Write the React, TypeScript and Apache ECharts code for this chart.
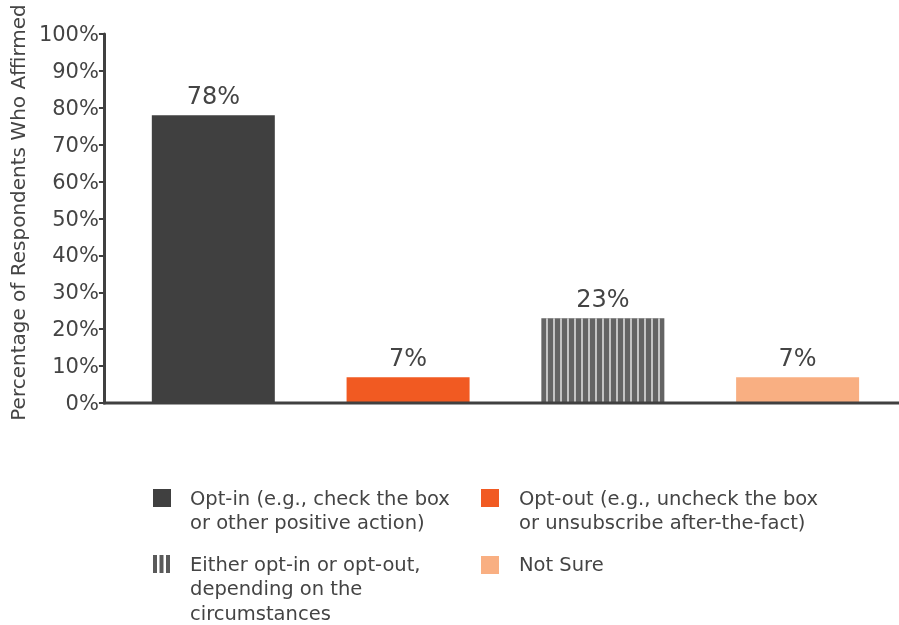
import React, { useEffect, useRef } from 'react';
import * as echarts from 'echarts';

const categories = ['Opt-in', 'Opt-out', 'Either opt-in or opt-out', 'Not Sure'];
const values = [78, 7, 23, 7];
const legendLabels = [
  'Opt-in (e.g., check the box\nor other positive action)',
  'Opt-out (e.g., uncheck the box\nor unsubscribe after-the-fact)',
  'Either opt-in or opt-out,\ndepending on the\ncircumstances',
  'Not Sure',
];
const yAxisTitle = 'Percentage of Respondents Who Affirmed';

const COLORS = ['#404040', '#F15A22', '#646464', '#F9AF82'];
const TEXT = '#444444';
const FONT = '"DejaVu Sans", sans-serif';

export default function App() {
  const ref = useRef<HTMLDivElement>(null);
  useEffect(() => {
    if (!ref.current) return;
    const chart = echarts.init(ref.current, undefined, { renderer: 'svg' });

    const legendPos = [
      { x: 153, y: 489, tx: 190, ty: 486 },
      { x: 481, y: 489, tx: 519, ty: 486 },
      { x: 153, y: 555, tx: 190, ty: 552 },
      { x: 481, y: 556, tx: 519, ty: 552 },
    ];
    const legendGraphics: any[] = [];
    legendLabels.forEach((lbl, i) => {
      const p = legendPos[i];
      if (i === 2) {
        [0, 1, 2].forEach((k) => {
          legendGraphics.push({
            type: 'rect',
            shape: { x: p.x + k * 6.5, y: p.y, width: 4, height: 18 },
            style: { fill: '#5a5a5a' },
          });
        });
      } else {
        legendGraphics.push({
          type: 'rect',
          shape: { x: p.x, y: p.y, width: 18, height: 18 },
          style: { fill: COLORS[i] },
        });
      }
      legendGraphics.push({
        type: 'text',
        x: p.tx,
        y: p.ty,
        style: {
          text: lbl,
          fill: TEXT,
          font: `19.5px ${FONT}`,
          lineHeight: 24.5,
          verticalAlign: 'top',
        },
      });
    });

    chart.setOption({
      animation: false,
      textStyle: { fontFamily: FONT },
      grid: { left: 115, right: 4, top: 34, bottom: 222, containLabel: false },
      xAxis: {
        type: 'category',
        data: categories,
        axisLine: { show: false },
        axisTick: { show: false },
        axisLabel: { show: false },
      },
      yAxis: {
        type: 'value',
        min: 0,
        max: 100,
        interval: 10,
        offset: 12,
        name: yAxisTitle,
        nameLocation: 'middle',
        nameGap: 72,
        nameTextStyle: { color: TEXT, fontSize: 20, fontFamily: FONT, padding: [0, 0, 0, 12] },
        axisLine: { show: true, lineStyle: { color: '#404040', width: 3 } },
        axisTick: { show: true, length: 5, lineStyle: { color: '#404040', width: 2 } },
        axisLabel: { formatter: '{value}%', color: TEXT, fontSize: 21, margin: 5, fontFamily: FONT },
        splitLine: { show: false },
      },
      series: [
        {
          type: 'bar',
          barWidth: 123,
          data: values.map((v, i) => {
            const item: any = { value: v, itemStyle: { color: COLORS[i] } };
            if (i === 2) {
              item.itemStyle.decal = {
                symbol: 'rect',
                symbolSize: 1,
                color: '#c4c4c4',
                dashArrayX: [2, 4.4],
                dashArrayY: [1, 0],
                rotation: 0,
              };
            }
            return item;
          }),
          label: {
            show: true,
            position: 'top',
            distance: 7,
            formatter: '{c}%',
            fontSize: 24,
            color: TEXT,
            fontFamily: FONT,
          },
        },
      ],
      graphic: [
        {
          type: 'line',
          shape: { x1: 103, y1: 403, x2: 899, y2: 403 },
          style: { stroke: '#404040', lineWidth: 3 },
          z: 10,
        },
        ...legendGraphics,
      ],
    });
    return () => chart.dispose();
  }, []);
  return <div ref={ref} style={{ position: 'fixed', left: 0, top: 0, width: 899, height: 625 }} />;
}
